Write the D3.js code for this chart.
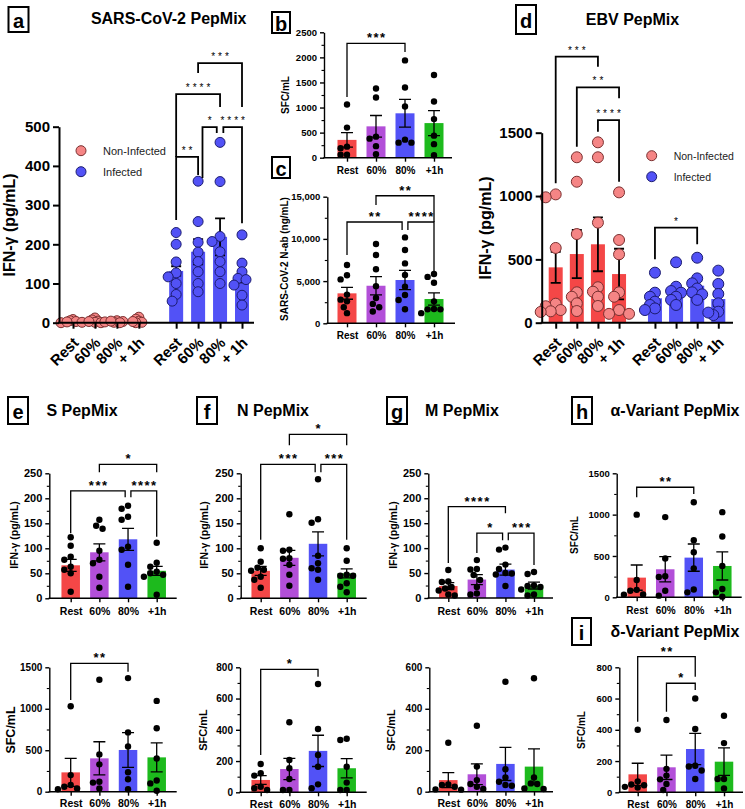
<!DOCTYPE html>
<html><head><meta charset="utf-8">
<script src="https://cdn.jsdelivr.net/npm/d3@7"></script>
<style>
html,body{margin:0;padding:0;background:#fff;}
svg{display:block;font-family:"Liberation Sans",Arial,Helvetica,sans-serif;}
</style></head><body>
<svg id="fig" width="745" height="809"></svg>
<script>
// ---------------- DATA ----------------
const groups = ["Rest","60%","80%","+1h"];
const groupsAD = ["Rest","60%","80%","+ 1h"];

// a: SARS-CoV-2 PepMix IFN-γ
const aNonInfMean = [4, 5, 3, 6];
const aNonInfSem  = [1, 1.5, 1, 2];
const aNonInfPts  = [[8,5,3,1,0,2],[12,7,4,1,0,3],[5,3,1,0,2,4],[14,9,4,1,0,3]];
const aInfMean = [132, 181, 219, 117];
const aInfSem  = [12, 32, 47, 14];
const aInfPts  = [[230,200,155,127,117,100,72,55],[361,258,205,180,156,130,100,79],[460,360,220,207,181,156,130,100],[224,152,130,113,110,96,70,45]];
const aBrackets = [
  {from:4.7,to:5.7,y:423,l:262,r:377,t:"**"},
  {from:4.7,to:6.7,y:583,l:423,r:550,t:"****"},
  {from:5.7,to:7.7,y:662,l:637,r:550,t:"***"},
  {from:5.9,to:6.55,y:499,l:369,r:484,t:"*"},
  {from:6.85,to:7.7,y:499,l:484,r:254,t:"****"}
];

// b: SFC/mL
const bMean = [355, 625, 885, 690];
const bSem  = [145, 216, 276, 249];
const bPts  = [[1060,600,220,190,60,60],[1380,1200,420,380,230,70],[1940,1400,1020,360,300,300],[1650,1120,770,440,270,50]];
const bBrackets = [{from:0,to:2,y:2281,l:1210,r:2107,t:"***"}];

// c: SARS-CoV-2 N-ab
const cMean = [3550, 4450, 5130, 2880];
const cSem  = [700, 1080, 1150, 720];
const cPts  = [[6900,5700,5200,3400,2800,2600,1900,1200],[9400,8100,6400,4400,3000,2300,1900,1400],[10180,8680,7100,5720,4340,3350,2760,1660],[5840,5500,4800,2600,1700,1650,1650,1200]];
const cBrackets = [
  {from:0,to:1.9,y:12000,l:8090,r:11050,t:"**"},
  {from:1,to:3,y:15110,l:14010,r:12000,t:"**"},
  {from:2.1,to:3,y:12000,l:11050,r:5960,t:"****"}
];

// d: EBV PepMix
const dNonInfMean = [437, 542, 619, 384];
const dNonInfSem  = [123, 190, 213, 200];
const dNonInfPts  = [[1013,990,590,150,130,100,90,85],[1306,1113,700,240,205,153,92],[1424,1306,790,280,245,205,132],[1029,653,540,240,205,100,70,70]];
const dInfMean = [193, 250, 292, 187];
const dInfSem  = [30, 38, 40, 55];
const dInfPts  = [[395,237,205,166,140,113,100],[477,284,250,237,205,180,140],[513,350,311,270,240,224,180],[411,306,227,153,87,60,80]];
const dBrackets = [
  {from:0,to:2,y:2100,l:1100,r:2021,t:"***"},
  {from:1,to:3,y:1858,l:1389,r:1771,t:"**"},
  {from:2,to:3,y:1600,l:1508,r:1113,t:"****"},
  {from:4.7,to:6.7,y:750,l:500,r:619,t:"*"}
];

// e: S PepMix
const eIfnMean = [66, 92, 118, 55];
const eIfnSem  = [12, 17, 22, 9];
const eIfnPts  = [[122,105,83,77,63,57,50,13],[157,145,139,95,77,70,43,21],[185,179,163,157,103,97,67,23],[111,71,63,53,50,47,43,7]];
const eIfnBrackets = [
  {from:1,to:3,y:268,l:252,r:252,t:"*"},
  {from:0,to:1.9,y:215,l:130,r:202,t:"***"},
  {from:2.1,to:3,y:215,l:202,r:123,t:"****"}
];
const eSfcMean = [233, 402, 503, 414];
const eSfcSem  = [169, 200, 210, 175];
const eSfcPts  = [[1030,200,80,60,40,30],[1350,450,330,120,110,40],[1370,715,545,235,150,30],[1095,765,400,135,100,12]];
const eSfcBrackets = [{from:0,to:2,y:1548,l:1106,r:1447,t:"**"}];

// f: N PepMix
const fIfnMean = [55, 81, 109, 50];
const fIfnSem  = [9, 15, 24, 9];
const fIfnPts  = [[100,73,61,57,55,43,37,21],[168,97,95,80,79,67,47,25],[238,158,151,85,70,60,57,37],[100,75,47,45,45,30,23,12]];
const fIfnBrackets = [
  {from:1,to:3,y:328,l:306,r:306,t:"*"},
  {from:0,to:1.9,y:268,l:117,r:252,t:"***"},
  {from:2.1,to:3,y:268,l:252,r:117,t:"***"}
];
const fSfcMean = [79, 149, 265, 154];
const fSfcSem  = [28, 68, 100, 62];
const fSfcPts  = [[181,122,107,36,26,15],[448,207,154,85,15,15],[693,405,239,164,51,26],[343,335,164,62,15,15]];
const fSfcBrackets = [{from:0,to:2,y:787,l:239,r:740,t:"*"}];

// g: M PepMix
const gIfnMean = [24, 37, 57, 25];
const gIfnSem  = [7, 10, 11, 7];
const gIfnPts  = [[56,33,32,22,19,15,7,5],[76,58,57,46,36,22,9,7],[101,97,67,58,50,49,47,24],[52,48,25,24,22,17,7,5]];
const gIfnBrackets = [
  {from:0,to:2,y:183,l:70,r:170,t:"****"},
  {from:1,to:1.9,y:130,l:90,r:116,t:"*"},
  {from:2.1,to:3,y:130,l:116,r:66,t:"***"}
];
const gSfcMean = [56, 84, 134, 121];
const gSfcSem  = [36, 50, 80, 86];
const gSfcPts  = [[236,35,32,24,11,10],[318,121,56,37,24,13],[530,108,69,48,32,29],[547,69,40,37,16,13]];

// h: α-Variant PepMix
const hSfcMean = [238, 339, 480, 379];
const hSfcSem  = [153, 153, 165, 170];
const hSfcPts  = [[1000,210,90,80,35,30],[970,470,255,245,80,20],[1150,690,545,350,95,60],[1030,735,380,100,60,8]];
const hSfcBrackets = [{from:0,to:2,y:1331,l:1210,r:1250,t:"**"}];

// i: δ-Variant PepMix
const iSfcMean = [115, 160, 277, 196];
const iSfcSem  = [71, 78, 100, 88];
const iSfcPts  = [[400,70,50,45,35,30],[463,150,107,83,53,15],[600,405,170,165,140,85],[490,315,85,85,25]];
const iSfcBrackets = [
  {from:0,to:2,y:868,l:452,r:740,t:"**"},
  {from:1,to:2,y:698,l:516,r:655,t:"*"}
];

// ---------------- DRAWING ----------------
const svg = d3.select("#fig");
const FONT = '"Liberation Sans", Arial, Helvetica, sans-serif';
const RED="#F44747", PURPLE="#B24FD8", BLUE="#5252F6", GREEN="#1DBA1D", PINK="#F58585";
const groupColors=[RED,PURPLE,BLUE,GREEN];

function swarm(vals, y, minD, step){
  const placed=[], out=new Array(vals.length);
  const order=vals.map((v,i)=>i).sort((a,b)=>vals[b]-vals[a]);
  order.forEach(i=>{
    const py=y(vals[i]); let dx=0;
    for(let k=0;k<60;k++){
      dx = k===0?0:((k%2)?-1:1)*Math.ceil(k/2)*step;
      if(placed.every(q=>Math.hypot(q[0]-dx,q[1]-py)>=minD)) break;
    }
    placed.push([dx,py]); out[i]=dx;
  });
  return out;
}

function drawPanel(p){
  const g=svg.append("g");
  const y=d3.scaleLinear().domain([0,p.yMax]).range([p.yZero,p.yTop]);
  const x=d3.scaleLinear().domain(p.idxDomain).range(p.centerRange);
  p.series.forEach(s=>{
    g.selectAll(null).data(s.mean).enter().append("rect")
      .attr("x",(d,k)=>x(s.idx[k])-p.barW/2).attr("width",p.barW)
      .attr("y",d=>y(d)).attr("height",d=>y(0)-y(d))
      .attr("fill",(d,k)=>Array.isArray(s.barFill)?s.barFill[k]:s.barFill);
  });
  p.series.forEach(s=>{
    s.mean.forEach((m,k)=>{
      const cx=x(s.idx[k]), hi=y(m+s.sem[k]), lo=y(Math.max(0,m-s.sem[k])), c=p.capW/2;
      g.append("path").attr("d",`M${cx},${lo}V${hi}M${cx-c},${hi}H${cx+c}M${cx-c},${lo}H${cx+c}`)
        .attr("stroke","#000").attr("stroke-width",p.errW).attr("fill","none");
    });
  });
  p.series.forEach(s=>{
    const minD=s.minD||p.dotMinD, step=s.step||p.dotStep;
    s.pts.forEach((vals,k)=>{
      const cx=x(s.idx[k]); const off=swarm(vals,y,minD,step);
      g.selectAll(null).data(vals).enter().append("circle")
        .attr("cx",(d,i)=>cx+off[i]).attr("cy",d=>y(d)).attr("r",p.dotR)
        .attr("fill",s.dotFill).attr("stroke",s.dotStroke||"none").attr("stroke-width",s.dotSW||0);
    });
  });
  const major=d3.range(0,p.yMax+1e-9,p.major);
  const ya=g.append("g").attr("transform",`translate(${p.axisX},0)`)
    .call(d3.axisLeft(y).tickValues(major).tickSize(p.tickLen).tickSizeOuter(0).tickPadding(p.tickPad).tickFormat(p.fmt||d3.format("d")));
  ya.attr("font-family",FONT).attr("font-size",p.yTickFS);
  ya.select(".domain").attr("stroke-width",p.axisW);
  ya.selectAll(".tick line").attr("stroke-width",p.axisW);
  ya.selectAll("text").attr("font-weight","bold").attr("fill","#000");
  if(p.minor){
    const minorVals=d3.range(0,p.yMax+1e-9,p.minor).filter(v=>!major.includes(v));
    const ym=g.append("g").attr("transform",`translate(${p.axisX},0)`)
      .call(d3.axisLeft(y).tickValues(minorVals).tickSize(p.minorLen).tickSizeOuter(0).tickFormat(""));
    ym.select(".domain").remove();
    ym.selectAll(".tick line").attr("stroke-width",p.axisW*0.8);
  }
  const xa=g.append("g").attr("transform",`translate(0,${p.yZero})`)
    .call(d3.axisBottom(x).tickValues(p.tickIdx).tickSize(p.xTickLen).tickFormat((d,i)=>p.labels[i]));
  xa.attr("font-family",FONT).attr("font-size",p.xLabFS);
  xa.select(".domain").remove();
  xa.selectAll(".tick line").attr("stroke-width",p.axisW);
  xa.selectAll("text").attr("font-weight","bold").attr("fill","#000");
  if(p.rotate){
    xa.selectAll("text").attr("x",0).attr("y",0).attr("dy",0).attr("text-anchor","end")
      .attr("transform",`translate(${p.rotDx},${p.rotDy}) rotate(-45)`);
  } else {
    xa.selectAll("text").attr("y",p.xLabDy).attr("dy",0);
  }
  g.append("line").attr("x1",p.axisX-p.axisW/2).attr("x2",p.axisEnd).attr("y1",p.yZero).attr("y2",p.yZero)
    .attr("stroke","#000").attr("stroke-width",p.axisW);
  g.append("text").attr("transform",`translate(${p.ytX},${p.ytY}) rotate(-90)`)
    .attr("text-anchor","middle").attr("font-weight","bold").attr("font-size",p.ytFS).text(p.yTitle);
  (p.brackets||[]).forEach(b=>{
    const x1=x(b.from), x2=x(b.to);
    g.append("path").attr("d",`M${x1},${y(b.l)}V${y(b.y)}H${x2}V${y(b.r)}`)
      .attr("fill","none").attr("stroke","#000").attr("stroke-width",p.brW);
    g.append("text").attr("x",(x1+x2)/2+p.starLS/2).attr("y",y(b.y)+p.starDy)
      .attr("text-anchor","middle").attr("font-size",p.starFS).attr("font-weight",p.starFW)
      .attr("letter-spacing",p.starLS).text(b.t);
  });
  return {x,y};
}

function boxLabel(x,y,w,h,letter){
  svg.append("rect").attr("x",x).attr("y",y).attr("width",w).attr("height",h)
    .attr("fill","none").attr("stroke","#000").attr("stroke-width",2);
  svg.append("text").attr("x",x+w/2).attr("y",y+h/2+1).attr("text-anchor","middle")
    .attr("dominant-baseline","central").attr("font-weight","bold").attr("font-size",20).text(letter);
}
function title(x,y,t){
  svg.append("text").attr("x",x).attr("y",y).attr("text-anchor","middle")
    .attr("font-weight","bold").attr("font-size",16).text(t);
}
function legend(x,y,fs){
  [["Non-Infected",PINK,"#7a3030"],["Infected",BLUE,"#1c1c70"]].forEach((d,i)=>{
    svg.append("circle").attr("cx",x).attr("cy",y+i*21).attr("r",5).attr("fill",d[1]).attr("stroke",d[2]).attr("stroke-width",1);
    svg.append("text").attr("x",x+22).attr("y",y+i*21).attr("dominant-baseline","central")
      .attr("font-size",fs).attr("fill","#222").text(d[0]);
  });
}

const big = {barW:14, capW:10, errW:1.8, axisW:2, tickLen:6, tickPad:3, xTickLen:6, yTickFS:15, xLabFS:15, ytFS:16,
  dotR:5, dotMinD:7, dotStep:4, brW:1.8, starFS:10, starFW:"normal", starLS:3, starDy:-3,
  idxDomain:[0,7.7], tickIdx:[0,1,2,3,4.7,5.7,6.7,7.7], labels:[...groupsAD,...groupsAD], rotate:true, rotDx:6, rotDy:21};
const small = {barW:18.5, capW:12, errW:1.3, axisW:1.4, tickLen:4, minorLen:2.5, tickPad:3, xTickLen:4,
  dotR:3.2, dotMinD:6.2, dotStep:3.2, brW:1.3, starFS:13, starFW:"bold", starLS:1.5, starDy:-1,
  idxDomain:[0,3], tickIdx:[0,1,2,3], labels:groups, xLabFS:10.5, yTickFS:10.5, ytFS:10.5, xLabDy:17};
const one = (mean,sem,pts)=>[{idx:[0,1,2,3],mean,sem,pts,barFill:groupColors,dotFill:"#000"}];

// ---- a ----
boxLabel(8.5,7,20,25,"a");
title(168.7,24,"SARS-CoV-2 PepMix");
drawPanel({...big, yZero:322.7, yTop:126.7, yMax:500, major:100, axisX:59, axisEnd:254, centerRange:[73,242],
  ytX:15, ytY:225, yTitle:"IFN-γ (pg/mL)", brackets:aBrackets,
  series:[
    {idx:[0,1,2,3],mean:aNonInfMean,sem:aNonInfSem,pts:aNonInfPts,barFill:PINK,dotFill:PINK,dotStroke:"#7a3030",dotSW:1,minD:3.2,step:3},
    {idx:[4.7,5.7,6.7,7.7],mean:aInfMean,sem:aInfSem,pts:aInfPts,barFill:BLUE,dotFill:BLUE,dotStroke:"#1c1c70",dotSW:1}
  ]});
legend(81,150.7,11);

// ---- b ----
boxLabel(272,12,18,21,"b");
drawPanel({...small, yZero:157.7, yTop:32.3, yMax:2500, major:500, minor:250, axisX:324, axisEnd:452,
  centerRange:[347,434], barW:19, yTickFS:9.5, xLabFS:10, xLabDy:16, ytX:289, ytY:95, ytFS:10,
  yTitle:"SFC/mL", brackets:bBrackets, series:one(bMean,bSem,bPts)});

// ---- c ----
boxLabel(272,157,18,21,"c");
drawPanel({...small, yZero:323.3, yTop:196.7, yMax:15000, major:5000, minor:2500, fmt:d3.format(","),
  axisX:327.3, axisEnd:455, centerRange:[347,434], barW:19, yTickFS:9.5, xLabFS:10, xLabDy:16,
  ytX:288, ytY:259, ytFS:10, yTitle:"SARS-CoV-2 N-ab (ng/mL)", brackets:cBrackets, series:one(cMean,cSem,cPts)});

// ---- d ----
boxLabel(516,5,20,29,"d");
title(632.5,25,"EBV PepMix");
drawPanel({...big, yZero:322.7, yTop:132.7, yMax:1500, major:500, axisX:541.7, axisEnd:733, centerRange:[555.7,718.3],
  ytX:491, ytY:228, yTitle:"IFN-γ (pg/mL)", brackets:dBrackets, dotR:5.5, dotMinD:6.5, dotStep:5,
  series:[
    {idx:[0,1,2,3],mean:dNonInfMean,sem:dNonInfSem,pts:dNonInfPts,barFill:RED,dotFill:PINK,dotStroke:"#7a3030",dotSW:1},
    {idx:[4.7,5.7,6.7,7.7],mean:dInfMean,sem:dInfSem,pts:dInfPts,barFill:BLUE,dotFill:BLUE,dotStroke:"#1c1c70",dotSW:1,minD:5.5}
  ]});
legend(651.7,155.7,10.5);

// ---- e ----
boxLabel(8,397,20,27,"e");
title(82,416,"S PepMix");
drawPanel({...small, yZero:598.3, yTop:473.3, yMax:250, major:50, minor:25, axisX:49.3, axisEnd:176.7,
  centerRange:[70.7,156.7], yTickFS:11, ytX:18, ytY:535, yTitle:"IFN-γ (pg/mL)", brackets:eIfnBrackets,
  series:one(eIfnMean,eIfnSem,eIfnPts)});
drawPanel({...small, yZero:791.7, yTop:667.3, yMax:1500, major:500, minor:250, axisX:49.3, axisEnd:176.7,
  centerRange:[70.7,156.7], yTickFS:10, xLabDy:15.5, ytX:14.5, ytY:730, ytFS:12.5, yTitle:"SFC/mL",
  brackets:eSfcBrackets, series:one(eSfcMean,eSfcSem,eSfcPts)});

// ---- f ----
boxLabel(197,397,20,27,"f");
title(273,416,"N PepMix");
drawPanel({...small, yZero:598.3, yTop:473.3, yMax:250, major:50, minor:25, axisX:240.7, axisEnd:366.7,
  centerRange:[260.7,346.7], yTickFS:11, ytX:208, ytY:535, yTitle:"IFN-γ (pg/mL)", brackets:fIfnBrackets,
  series:one(fIfnMean,fIfnSem,fIfnPts)});
drawPanel({...small, yZero:792.3, yTop:667.3, yMax:800, major:200, minor:100, axisX:240, axisEnd:366.7,
  centerRange:[260.7,346.7], yTickFS:10, xLabDy:15.5, ytX:207, ytY:730, ytFS:11, yTitle:"SFC/mL",
  brackets:fSfcBrackets, series:one(fSfcMean,fSfcSem,fSfcPts)});

// ---- g ----
boxLabel(387,397,20,27,"g");
title(462,416,"M PepMix");
drawPanel({...small, yZero:598, yTop:473.3, yMax:250, major:50, minor:25, axisX:428.3, axisEnd:553,
  centerRange:[448.3,534], yTickFS:11, ytX:397, ytY:535, yTitle:"IFN-γ (pg/mL)", brackets:gIfnBrackets,
  series:one(gIfnMean,gIfnSem,gIfnPts)});
drawPanel({...small, yZero:791.7, yTop:667.3, yMax:600, major:200, minor:100, axisX:429.3, axisEnd:553,
  centerRange:[448.3,534], yTickFS:10, xLabDy:15.5, ytX:395, ytY:730, ytFS:11, yTitle:"SFC/mL",
  series:one(gSfcMean,gSfcSem,gSfcPts)});

// ---- h ----
boxLabel(572,397,20,27,"h");
title(675,416,"α-Variant PepMix");
drawPanel({...small, yZero:597.3, yTop:473.3, yMax:1500, major:500, minor:250, axisX:616.7, axisEnd:741.7,
  centerRange:[636.7,722.3], yTickFS:9.5, xLabFS:10, ytX:578, ytY:535, ytFS:10, yTitle:"SFC/mL",
  brackets:hSfcBrackets, series:one(hSfcMean,hSfcSem,hSfcPts)});

// ---- i ----
boxLabel(572,618,19,27,"i");
title(675,637,"δ-Variant PepMix");
drawPanel({...small, yZero:792.3, yTop:667.3, yMax:800, major:200, minor:100, axisX:619.3, axisEnd:743,
  centerRange:[637.7,724], yTickFS:9.5, xLabFS:10, xLabDy:15.5, ytX:585, ytY:730, ytFS:10, yTitle:"SFC/mL",
  brackets:iSfcBrackets, series:one(iSfcMean,iSfcSem,iSfcPts)});
</script>
</body></html>
